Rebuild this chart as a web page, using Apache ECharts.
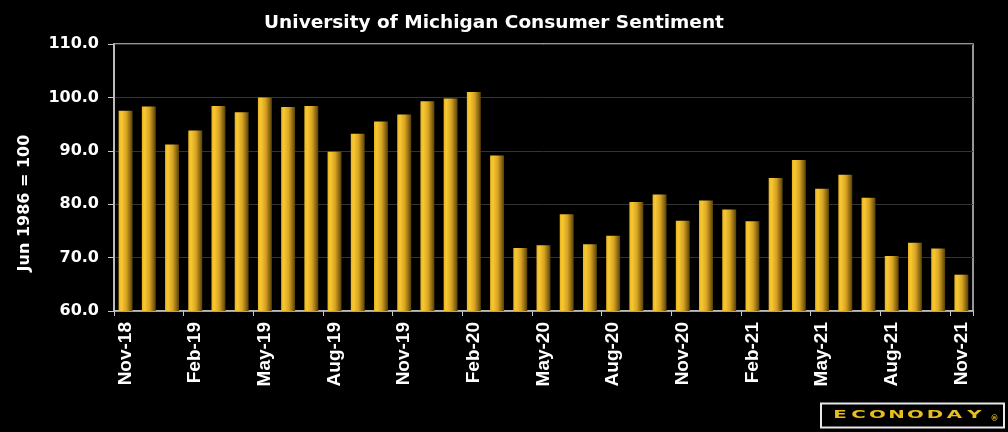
<!DOCTYPE html>
<html><head><meta charset="utf-8">
<script src="https://cdn.jsdelivr.net/npm/echarts@6/dist/echarts.min.js"></script>
<style>html,body{margin:0;padding:0;background:#000;}#c{width:1008px;height:432px;}</style>
</head><body><div id="c"></div>
<script>
const categories = ['Nov-18','Dec-18','Jan-19','Feb-19','Mar-19','Apr-19','May-19','Jun-19','Jul-19','Aug-19','Sep-19','Oct-19','Nov-19','Dec-19','Jan-20','Feb-20','Mar-20','Apr-20','May-20','Jun-20','Jul-20','Aug-20','Sep-20','Oct-20','Nov-20','Dec-20','Jan-21','Feb-21','Mar-21','Apr-21','May-21','Jun-21','Jul-21','Aug-21','Sep-21','Oct-21','Nov-21'];
const sentiment = [97.5,98.3,91.2,93.8,98.4,97.2,100.0,98.2,98.4,89.8,93.2,95.5,96.8,99.3,99.8,101.0,89.1,71.8,72.3,78.1,72.5,74.1,80.4,81.8,76.9,80.7,79.0,76.8,84.9,88.3,82.9,85.5,81.2,70.3,72.8,71.7,66.8];
const yTicks = [60,70,80,90,100,110];
const logoLetters = ['E','C','O','N','O','D','A','Y'];

const logoX = [840, 858.5, 877.5, 896.5, 915.5, 935, 954.5, 974.5];
const logoGraphics = logoLetters.map((ch, i) => ({
  type: 'text', x: logoX[i], y: 415, scaleX: 1.8, scaleY: 1,
  style: {text: ch, fill: '#e8be1c', font: 'bold 11px "DejaVu Sans"', align: 'center', verticalAlign: 'middle'}
}));

const chart = echarts.init(document.getElementById('c'));
chart.setOption({
  backgroundColor: '#000',
  animation: false,
  title: {
    text: 'University of Michigan Consumer Sentiment',
    left: 489, top: 9, textAlign: 'center',
    textStyle: {color: '#fff', fontFamily: 'DejaVu Sans', fontWeight: 'bold', fontSize: 18.5}
  },
  grid: {left: 114, right: 35, top: 44, bottom: 121, show: true, borderColor: '#c8c8c8', borderWidth: 1.5, backgroundColor: 'transparent'},
  xAxis: {
    type: 'category', data: categories, boundaryGap: true,
    axisLine: {lineStyle: {color: '#c8c8c8', width: 1.5}},
    axisTick: {show: true, interval: 2, length: 5, lineStyle: {color: '#c8c8c8'}},
    axisLabel: {interval: 2, rotate: 90, color: '#fff', fontFamily: 'Liberation Sans', fontWeight: 'bold', fontSize: 19, margin: 11}
  },
  yAxis: {
    type: 'value', min: yTicks[0], max: yTicks[yTicks.length-1], interval: 10,
    axisLine: {show: true, lineStyle: {color: '#c8c8c8', width: 1.5}},
    axisTick: {show: true, length: 6, lineStyle: {color: '#c8c8c8'}},
    splitLine: {lineStyle: {color: '#343434', width: 1}},
    axisLabel: {color: '#fff', fontFamily: 'DejaVu Sans', fontWeight: 'bold', fontSize: 16, margin: 15, formatter: v => v.toFixed(1)}
  },
  graphic: [
    {type: 'text', x: 25, y: 203, rotation: Math.PI/2,
     style: {text: 'Jun 1986 = 100', fill: '#fff', font: 'bold 16px "DejaVu Sans"', align: 'center', verticalAlign: 'middle'}},
    {type: 'rect', shape: {x: 821, y: 403.5, width: 183, height: 24}, style: {fill: '#000', stroke: '#e8e8e8', lineWidth: 2}},
    ...logoGraphics,
    {type: 'text', x: 994.5, y: 418.5, style: {text: '®', fill: '#e8be1c', font: 'bold 8px "DejaVu Sans"', align: 'center', verticalAlign: 'middle'}}
  ],
  series: [{
    type: 'bar', data: sentiment, barCategoryGap: '40%',
    itemStyle: {color: new echarts.graphic.LinearGradient(0,0,1,0,[
      {offset: 0, color: '#eab522'},
      {offset: 0.2, color: '#f7c832'},
      {offset: 0.55, color: '#d8a322'},
      {offset: 0.85, color: '#836212'},
      {offset: 1, color: '#54400a'}
    ])}
  }]
});
</script></body></html>
